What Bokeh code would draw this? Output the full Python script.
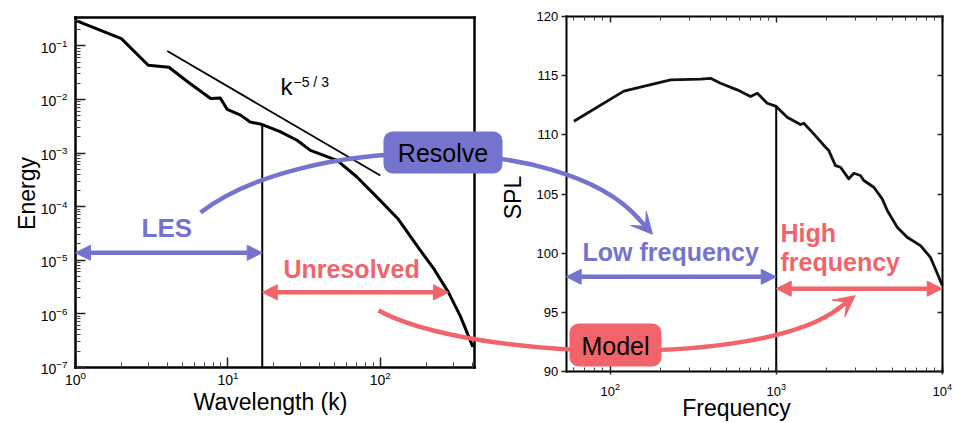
import math
from bokeh.plotting import figure
from bokeh.models import (Range1d, LogScale, LinearScale, LogAxis, LinearAxis, FixedTicker,
                          CustomJSTickFormatter, Label, Arrow, NormalHead, VeeHead)
from bokeh.embed import file_html
from bokeh.resources import INLINE

# ---------------- data ----------------
# left panel: energy spectrum
k_left = [1.0, 2.0, 3.0, 4.1, 5.5, 7.7, 8.9, 9.9, 12.1, 14.0, 16.8, 22.0, 28.4, 34.8,
          52.0, 70.0, 95.0, 130.0, 183.0, 226.0, 280.0, 335.0, 405.0]
E_left = [0.30, 0.137, 0.0435, 0.040, 0.021, 0.0104, 0.0107, 0.0065, 0.0051, 0.0038,
          0.0034, 0.0025, 0.00173, 0.00112, 0.00073, 3.6e-4, 1.5e-4, 6.0e-5, 1.52e-5,
          6.7e-6, 2.5e-6, 9.0e-7, 2.4e-7]
k53 = [4.0, 100.0]            # k^-5/3 reference line
E53 = [0.080, 3.8e-4]
k_cut = 16.8                  # LES cut-off wavenumber
E_cut = 0.0034
k_range = (1.0, 415.0)
E_range = (1e-7, 10 ** -0.464)
E_major = [1e-7, 1e-6, 1e-5, 1e-4, 1e-3, 1e-2, 1e-1]
k_major = [1, 10, 100]

# right panel: SPL spectrum
f_right = [60.4, 120.8, 231, 350, 402, 462, 582, 700, 770, 883, 1000, 1165, 1400, 1466,
           1683, 1983, 2075, 2275, 2440, 2736, 2933, 3218, 3370, 3873, 4352, 4666, 5360,
           6150, 7400, 8490, 9550, 10000]
spl_right = [111.15, 113.69, 114.65, 114.7, 114.78, 114.36, 113.8, 113.24, 113.52, 112.67,
             112.4, 111.49, 110.87, 110.98, 110.08, 108.95, 108.67, 107.4, 107.26, 106.28,
             106.75, 106.56, 106.14, 105.57, 104.59, 103.6, 102.19, 101.34, 100.64, 99.65,
             97.96, 97.3]
f_cut = 1000.0
spl_cut = 112.4
f_range = (54.3, 10000.0)
spl_range = (90.0, 120.0)
spl_major = [90, 95, 100, 105, 110, 115, 120]
f_major = [100, 1000, 10000]

# annotation spans
les_span, les_E = [1.0, k_cut], 1.37e-5
unres_span, unres_E = [k_cut, 280.0], 2.5e-6
low_span, low_spl = [f_range[0], f_cut], 98.0
high_span, high_spl = [f_cut, 10000.0], 97.0

# ---------------- layout / style ----------------
W, H = 953, 423
BLUE = "#7474CE"
RED = "#F2636A"
FONT = "Liberation Sans"

# pixel frames of the two panels
LPX = (75.0, 474.0); LPY = (366.7, 16.7)
RPX = (565.7, 941.7); RPY = (371.0, 16.0)


def ext(a, b, pa, pb, qs, qe, log):
    la, lb = (math.log10(a), math.log10(b)) if log else (a, b)
    f = lambda q: la + (q - pa) / (pb - pa) * (lb - la)
    s, e = f(qs), f(qe)
    return Range1d(10 ** s, 10 ** e) if log else Range1d(s, e)


p = figure(width=W, height=H, output_backend="svg", toolbar_location=None,
           x_range=Range1d(0, W), y_range=Range1d(H, 0),
           x_axis_type=None, y_axis_type=None,
           min_border=0, min_border_left=0, min_border_right=0,
           min_border_top=0, min_border_bottom=0,
           outline_line_color=None, background_fill_color="white",
           border_fill_color="white")

p.extra_x_ranges = {"LX": ext(*k_range, *LPX, 0, W, True),
                    "RX": ext(*f_range, *RPX, 0, W, True)}
p.extra_y_ranges = {"LY": ext(*E_range, *LPY, H, 0, True),
                    "RY": ext(*spl_range, *RPY, H, 0, False)}
p.extra_x_scales = {"LX": LogScale(), "RX": LogScale()}
p.extra_y_scales = {"LY": LogScale(), "RY": LinearScale()}


def minors(lo, hi, e0, e1):
    return [m * 10 ** e for e in range(e0, e1) for m in range(2, 10) if lo <= m * 10 ** e <= hi]


def mk_axis(cls, side, loc, bounds, ticks, minor, tin=0, tout=0, min_in=0, min_out=0,
            labels=True, lw=2.5, fs="13px", standoff=5, **names):
    ax = cls(fixed_location=loc, bounds=bounds,
             ticker=FixedTicker(ticks=ticks, minor_ticks=minor), **names)
    ax.axis_line_width = lw
    ax.axis_line_cap = "square"
    ax.axis_line_color = "black"
    ax.major_tick_in = tin
    ax.major_tick_out = tout
    ax.minor_tick_in = min_in
    ax.minor_tick_out = min_out
    ax.major_tick_line_width = 1.5
    ax.minor_tick_line_width = 1
    ax.major_tick_line_color = "#222222"
    ax.minor_tick_line_color = "#444444"
    ax.major_label_text_font = FONT
    ax.major_label_text_font_size = fs
    ax.major_label_text_color = "black"
    ax.major_label_standoff = standoff
    if not labels:
        ax.formatter = CustomJSTickFormatter(code="return ''")
    p.add_layout(ax, side)
    return ax


# left panel axes
mk_axis(LogAxis, "left", LPX[0], E_range, E_major, minors(*E_range, -7, 0),
        tin=10, min_in=5, fs="14px", standoff=8, y_range_name="LY")
mk_axis(LogAxis, "below", LPY[0], k_range, k_major, minors(*k_range, 0, 3),
        tin=10, min_in=5, fs="14px", standoff=4, x_range_name="LX")
mk_axis(LogAxis, "above", LPY[1], k_range, [], [], labels=False, x_range_name="LX")
mk_axis(LogAxis, "right", LPX[1], E_range, [], [], labels=False, y_range_name="LY")

# right panel axes
mk_axis(LinearAxis, "left", RPX[0], spl_range, spl_major, [], tout=5, lw=2,
        fs="13px", standoff=3, y_range_name="RY")
mk_axis(LinearAxis, "right", RPX[1], spl_range, spl_major, [], tin=5, lw=2,
        labels=False, y_range_name="RY")
mk_axis(LogAxis, "below", RPY[0], f_range, f_major, minors(*f_range, 1, 4),
        tin=6, tout=3, min_in=4, lw=2, fs="13px", standoff=8, x_range_name="RX")
mk_axis(LogAxis, "above", RPY[1], f_range, f_major, minors(*f_range, 1, 4),
        tin=6, min_in=4, lw=2, labels=False, x_range_name="RX")

# ---------------- data lines ----------------
p.line(k_left, E_left, x_range_name="LX", y_range_name="LY",
       line_color="black", line_width=3, line_join="round")
p.line(k53, E53, x_range_name="LX", y_range_name="LY", line_color="black", line_width=1.8)
p.segment(x0=[k_cut], y0=[E_range[0]], x1=[k_cut], y1=[E_cut],
          x_range_name="LX", y_range_name="LY", line_color="black", line_width=2)

p.line(f_right, spl_right, x_range_name="RX", y_range_name="RY",
       line_color="#111111", line_width=2.8, line_join="round")
p.segment(x0=[f_cut], y0=[spl_range[0]], x1=[f_cut], y1=[spl_cut],
          x_range_name="RX", y_range_name="RY", line_color="black", line_width=2)

# ---------------- straight double arrows ----------------
def dbl_arrow(span, yv, xr, yr, color):
    p.add_layout(Arrow(x_start=span[0], y_start=yv, x_end=span[1], y_end=yv,
                       x_range_name=xr, y_range_name=yr,
                       line_color=color, line_width=4.5,
                       start=NormalHead(size=15, fill_color=color, line_color=color, line_width=1),
                       end=NormalHead(size=15, fill_color=color, line_color=color, line_width=1)))


dbl_arrow(les_span, les_E, "LX", "LY", BLUE)
dbl_arrow(unres_span, unres_E, "LX", "LY", RED)
dbl_arrow(low_span, low_spl, "RX", "RY", BLUE)
dbl_arrow(high_span, high_spl, "RX", "RY", RED)

# ---------------- curved arrows (canvas pixel coordinates) ----------------
RESOLVE_CURVE = dict(x0=200, y0=212, cx0=300, cy0=135, cx1=560, cy1=130, x1=638, y1=218)
MODEL_CURVE = dict(x0=378, y0=310, cx0=470, cy0=360, cx1=760, cy1=368, x1=838, y1=308)


def curved(c, color):
    p.bezier(x0=[c["x0"]], y0=[c["y0"]], x1=[c["x1"]], y1=[c["y1"]],
             cx0=[c["cx0"]], cy0=[c["cy0"]], cx1=[c["cx1"]], cy1=[c["cy1"]],
             line_color=color, line_width=4.5, level="annotation")
    dx, dy = c["x1"] - c["cx1"], c["y1"] - c["cy1"]
    n = math.hypot(dx, dy)
    size = 21
    p.add_layout(Arrow(x_start=c["x1"] - dx / n * 2, y_start=c["y1"] - dy / n * 2,
                       x_end=c["x1"] + dx / n * size, y_end=c["y1"] + dy / n * size,
                       line_color=color, line_width=4.5,
                       end=VeeHead(size=size, fill_color=color, line_color=color, line_width=1)))


curved(RESOLVE_CURVE, BLUE)
curved(MODEL_CURVE, RED)

# boxes
p.quad(left=[383], right=[502], top=[131], bottom=[173], fill_color=BLUE,
       line_color=None, border_radius=9, level="overlay")
p.quad(left=[569], right=[661], top=[323], bottom=[366], fill_color=RED,
       line_color=None, border_radius=9, level="overlay")


def label(x, y, text, size, color="black", bold=False, align="left", baseline="alphabetic",
          angle=0.0, level="annotation"):
    px = float(size.replace("px", ""))
    dy = -0.4 * px if baseline == "alphabetic" else 0.0
    p.add_layout(Label(x=x, y=y + dy, text=text, text_font=FONT, text_font_size=size,
                       text_color=color, text_font_style="bold" if bold else "normal",
                       text_align=align, text_baseline=baseline, angle=angle, level=level))


label(442.5, 162, "Resolve", "25px", align="center", level="overlay")
label(615, 355, "Model", "25px", align="center", level="overlay")

label(141, 238, "LES", "26px", BLUE, bold=True)
label(283, 278, "Unresolved", "25px", RED, bold=True)
label(582, 261, "Low frequency", "25px", BLUE, bold=True)
label(780, 242, "High", "25px", RED, bold=True)
label(780, 271, "frequency", "25px", RED, bold=True)

label(280, 96, "k", "24px")
label(293, 87, "\u22125 / 3", "14px")

label(26, 193, "Energy", "23px", align="center", baseline="middle", angle=math.pi / 2)
label(512, 197, "SPL", "23px", align="center", baseline="middle", angle=math.pi / 2)
label(270, 411, "Wavelength (k)", "23px", align="center")
label(736, 417, "Frequency", "23px", align="center")

open("out.html", "w").write(file_html(p, INLINE))
